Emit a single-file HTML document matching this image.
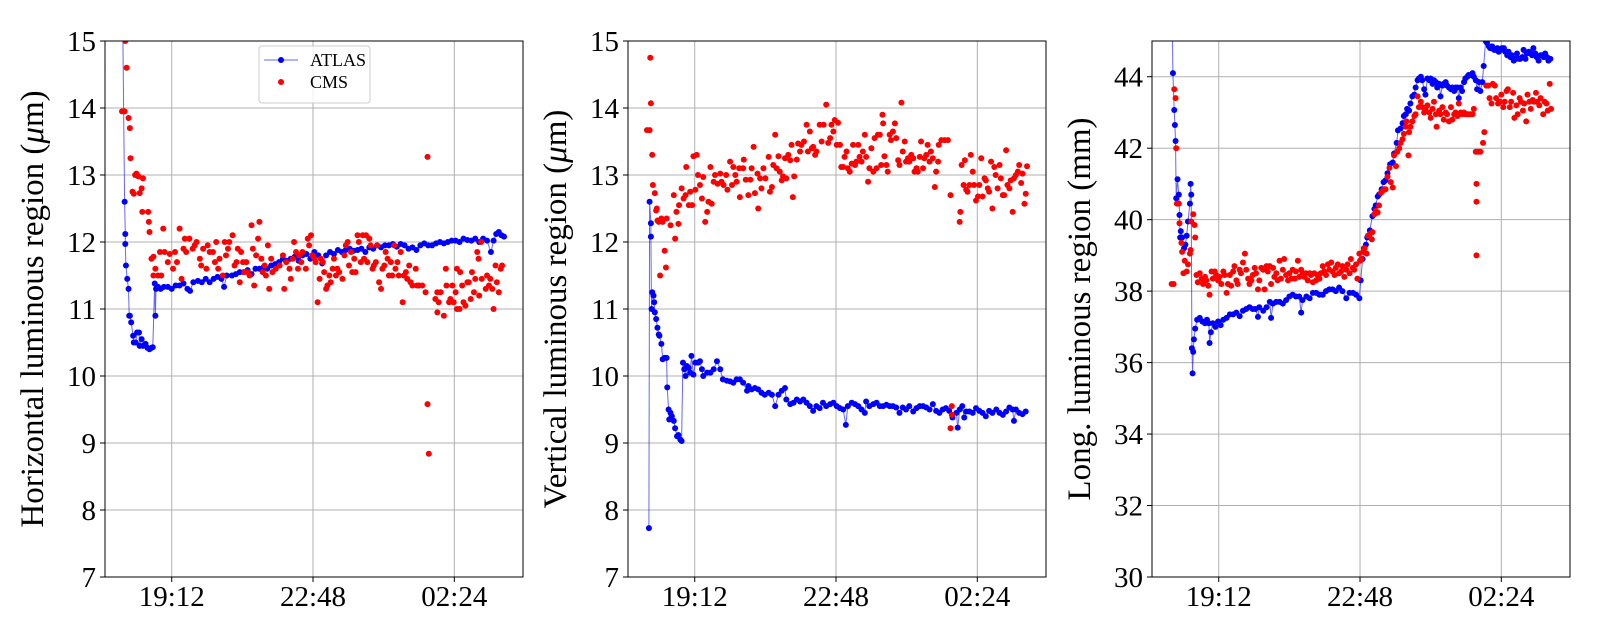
<!DOCTYPE html>
<html><head><meta charset="utf-8"><style>
html,body{margin:0;padding:0;background:#fff;}
svg{display:block;font-family:"Liberation Serif","DejaVu Serif",serif;}
</style></head><body>
<svg id="fig" width="1600" height="640" viewBox="0 0 1600 640"></svg>
<script>
// time in minutes after 18:00
const xTickMinutes=[72,288,504];
const xTickLabels=["19:12","22:48","02:24"];
const p1YTicks=[7,8,9,10,11,12,13,14,15];
const p2YTicks=[7,8,9,10,11,12,13,14,15];
const p3YTicks=[30,32,34,36,38,40,42,44];

const p1AtlasT=[-3,0,1,1,2,4,6,7,8,10,13,14,17,19,22,23,26,28,32,35,38,41,43,46,47,48,51,55,60,66,72,78,84,90,96,100,105,112,118,124,130,136,142,148,152,156,164,170,176,182,188,194,200,206,212,218,224,230,236,242,248,254,260,266,272,278,284,290,296,302,308,314,320,326,332,338,344,350,356,362,368,374,380,386,392,398,404,410,416,422,428,434,440,446,452,458,464,470,476,482,488,494,500,506,512,518,524,530,536,542,548,554,560,564,568,572,576,580];
const p1AtlasV=[15.3,12.6,12.12,11.97,11.65,11.45,11.3,10.9,10.9,10.8,10.6,10.5,10.5,10.65,10.65,10.45,10.55,10.45,10.48,10.42,10.4,10.42,10.43,11.38,10.9,11.3,11.33,11.3,11.33,11.33,11.3,11.35,11.35,11.38,11.3,11.27,11.4,11.42,11.4,11.45,11.4,11.45,11.48,11.45,11.33,11.5,11.5,11.52,11.55,11.55,11.58,11.52,11.6,11.6,11.62,11.6,11.65,11.67,11.7,11.75,11.72,11.75,11.78,11.72,11.8,11.82,11.75,11.85,11.8,11.68,11.8,11.85,11.82,11.88,11.85,11.88,11.9,11.87,11.88,11.9,11.85,11.92,11.9,11.95,11.92,11.95,11.95,11.97,11.93,11.97,11.95,11.9,11.92,11.88,11.95,11.98,11.95,11.95,11.98,12.0,11.98,12.0,12.02,12.02,12.0,12.05,12.03,12.02,12.05,12.0,12.05,12.02,11.85,12.02,12.12,12.15,12.1,12.08];
const p1CmsT=[-4,0,1,3,6,8,9,12,14,16,18,21,23,26,28,27,36,37,38,41,44,44,47,51,54,56,59,61,66,69,74,77,80,84,87,90,92,94,99,104,107,110,115,117,120,125,127,130,135,138,140,143,145,150,153,155,158,160,165,168,171,173,176,178,181,183,186,188,191,194,196,198,201,204,206,209,211,214,216,219,221,224,226,231,237,242,244,247,252,254,257,259,262,265,267,270,272,277,280,282,285,287,290,292,295,298,300,303,305,308,310,313,315,318,320,323,325,328,333,336,338,341,343,346,348,351,353,356,358,361,364,366,369,371,374,376,379,381,384,386,389,392,394,397,399,402,404,407,409,412,414,417,419,422,425,427,430,432,435,437,440,445,447,450,455,460,463,463,465,475,478,480,483,478,488,491,492,496,498,501,503,506,508,508,512,513,516,518,521,524,526,529,531,534,536,539,541,542,545,546,552,554,557,559,562,564,567,569,572,575,577];
const p1CmsV=[13.95,13.95,15.0,14.6,13.85,13.7,13.25,12.75,12.72,13.0,13.02,12.98,12.73,12.8,12.95,12.45,12.45,12.3,12.15,11.75,11.78,11.5,11.6,11.5,11.85,11.5,12.2,11.85,11.7,11.82,11.6,11.85,11.7,12.2,11.45,11.9,12.05,11.85,12.05,11.9,11.95,12.0,11.75,11.65,11.9,11.6,11.95,11.85,11.85,11.7,12.0,11.6,11.75,11.5,12.0,11.8,11.9,12.0,12.1,11.65,11.7,11.9,11.4,11.85,11.7,11.55,11.7,11.55,11.5,12.25,11.9,11.35,11.8,12.05,12.3,11.75,11.55,11.65,11.5,11.95,11.3,11.75,11.55,11.6,11.65,11.8,11.3,11.7,11.6,11.45,11.75,12.0,11.85,11.6,11.8,11.7,11.85,11.6,12.05,11.95,12.1,11.8,11.75,11.7,11.1,11.45,11.75,11.7,11.55,11.3,11.35,11.5,11.4,11.6,11.75,11.5,11.6,11.55,11.45,11.8,11.95,12.0,11.65,11.85,11.55,11.75,11.55,12.1,12.0,11.7,12.1,11.75,12.1,11.7,12.05,11.95,11.6,11.65,11.7,11.95,11.4,11.3,11.6,11.65,11.85,11.75,11.5,11.7,11.5,11.95,11.6,11.7,11.5,11.85,11.1,11.5,11.55,11.45,11.65,11.4,11.35,11.6,11.35,11.35,11.35,11.25,13.27,9.58,8.84,11.15,11.25,11.1,11.25,10.95,10.9,11.6,11.35,11.1,11.15,11.35,11.1,11.25,11.0,11.6,11.0,11.55,11.35,11.1,11.05,11.4,11.4,11.15,11.55,11.25,11.45,11.85,11.75,11.2,12.0,11.45,11.3,11.5,11.35,11.45,11.3,11.0,11.65,11.4,11.25,11.6,11.65];

const p2AtlasT=[2,3,5,5,6,7,9,10,11,13,15,17,18,21,23,26,29,30,32,33,35,37,40,42,45,47,50,52,54,56,58,60,63,65,67,70,73,77,80,83,85,91,96,101,106,111,115,121,126,131,136,141,146,152,154,159,164,169,174,179,185,190,195,200,205,210,212,218,223,228,233,238,243,248,253,258,263,268,273,279,284,289,294,299,303,306,312,317,322,327,332,334,339,345,350,355,360,365,370,375,380,385,390,395,400,406,411,416,421,426,431,436,441,446,451,456,461,466,472,474,477,481,484,487,492,497,502,507,512,517,522,527,533,538,543,548,553,558,560,563,568,573,578];
const p2AtlasV=[7.73,12.6,12.28,12.08,11.0,11.25,11.2,11.1,10.95,10.85,10.72,10.62,10.6,10.48,10.25,10.27,10.27,9.83,9.5,9.35,9.45,9.4,9.33,9.22,9.1,9.12,9.05,9.03,10.2,10.1,10.0,10.15,10.12,10.05,10.3,10.02,10.2,10.2,10.22,10.1,10.0,10.05,10.05,10.1,10.22,10.1,9.95,9.93,9.92,9.9,9.95,9.95,9.9,9.78,9.85,9.8,9.82,9.8,9.75,9.72,9.75,9.72,9.55,9.72,9.78,9.82,9.65,9.58,9.6,9.65,9.62,9.65,9.6,9.55,9.48,9.55,9.52,9.6,9.55,9.58,9.6,9.55,9.52,9.5,9.27,9.55,9.6,9.58,9.55,9.5,9.45,9.62,9.55,9.58,9.6,9.55,9.55,9.57,9.55,9.55,9.53,9.45,9.53,9.5,9.55,9.47,9.52,9.55,9.55,9.53,9.5,9.58,9.48,9.45,9.5,9.52,9.48,9.38,9.45,9.23,9.5,9.55,9.38,9.47,9.47,9.45,9.52,9.48,9.45,9.4,9.48,9.45,9.5,9.45,9.42,9.47,9.53,9.5,9.33,9.5,9.45,9.43,9.47];
const p2CmsT=[-1,3,4,5,7,8,11,13,14,15,17,19,21,23,26,28,29,35,40,42,44,47,48,52,55,58,59,63,65,68,70,73,75,77,80,83,85,88,91,93,98,96,101,103,107,111,113,116,120,122,126,129,131,134,136,140,141,146,147,150,154,157,159,162,164,168,169,172,174,177,180,185,187,190,192,195,197,200,202,205,207,210,212,215,218,220,222,224,228,230,233,235,239,243,245,248,251,253,256,258,263,266,269,273,276,279,281,284,286,289,291,294,296,299,301,304,306,309,312,314,317,319,322,324,327,329,332,334,337,339,342,345,347,350,352,355,357,359,360,362,365,367,370,372,375,378,380,383,385,388,390,393,395,398,400,403,406,408,411,413,416,418,421,423,426,428,431,433,436,439,441,444,445,449,454,459,463,463,465,465,477,478,480,483,485,487,489,492,494,497,499,502,505,507,510,512,515,517,520,522,525,527,530,532,535,538,540,543,545,548,550,553,555,558,560,563,566,568,571,573,576,578,580];
const p2CmsV=[13.67,13.67,14.75,14.07,13.3,12.85,12.73,12.47,12.5,12.32,12.3,11.5,12.35,12.3,11.87,11.62,12.35,12.25,12.7,12.05,12.45,12.27,12.55,12.8,12.65,12.7,13.12,12.55,12.75,12.55,13.28,12.78,13.3,13.0,12.85,12.65,12.97,12.3,12.45,12.6,12.57,13.12,12.9,13.0,12.87,13.02,12.9,12.85,13.0,12.78,13.2,12.85,13.12,13.0,12.9,13.1,12.67,13.1,13.23,12.93,12.7,12.93,13.1,13.42,12.73,13.02,12.5,12.95,12.8,13.1,12.95,13.27,12.75,12.82,13.15,13.6,13.1,13.28,13.05,12.92,12.98,13.25,12.95,13.3,13.22,13.45,12.67,12.98,13.23,13.47,13.35,13.45,13.5,13.75,13.35,13.65,13.4,13.42,13.3,13.35,13.75,13.5,13.75,14.05,13.48,13.55,13.75,13.65,13.82,13.45,13.78,13.45,13.12,13.12,13.27,13.35,13.1,13.05,13.17,13.45,13.15,13.2,13.45,13.27,13.2,13.35,13.6,13.27,12.9,13.1,13.4,13.05,13.55,13.1,13.6,13.6,13.15,13.9,13.77,13.28,13.15,13.05,13.6,13.52,13.65,13.77,13.55,13.22,13.15,14.08,13.35,13.5,13.2,13.25,13.2,13.3,13.25,13.05,13.1,13.05,13.27,13.5,13.1,13.25,13.3,13.45,13.2,13.35,13.25,12.82,13.05,13.2,13.45,13.52,13.52,13.52,12.7,9.22,9.55,9.42,12.3,12.45,13.15,12.85,13.22,12.78,12.75,12.85,13.3,13.05,12.85,12.62,12.68,12.85,13.25,12.68,12.95,12.92,12.8,12.75,13.2,12.5,13.12,13.0,12.8,13.15,12.95,12.7,12.7,13.37,12.85,12.8,12.92,12.45,12.95,13.0,13.05,13.15,12.88,13.02,12.57,12.72,13.13];

const p3AtlasT=[1,2,4,5,6,7,9,11,12,13,14,16,19,21,23,25,28,29,30,31,32,33,34,36,39,43,47,51,54,57,58,60,63,67,71,75,79,84,89,94,99,104,109,114,119,124,128,132,134,140,145,150,152,155,160,165,170,175,180,185,190,195,198,200,206,211,216,221,226,231,236,241,246,251,256,261,267,272,277,282,287,289,292,294,297,299,303,307,310,312,315,317,321,324,327,330,334,338,340,344,346,350,353,355,358,360,363,365,368,371,373,376,378,381,383,386,388,391,394,396,399,401,404,406,409,411,414,416,419,421,424,427,429,432,434,437,439,442,444,447,449,452,454,457,460,462,465,467,470,472,475,477,480,482,485,487,490,493,495,498,500,503,505,508,510,513,515,518,520,523,526,528,531,533,536,538,541,543,546,549,551,553,556,558,561,564,566,569,571,574,576,579];
const p3AtlasV=[45.5,44.1,43.07,42.65,42.2,40.6,41.13,40.7,40.13,39.5,39.68,39.5,39.2,39.3,39.55,39.95,40.45,41.0,40.7,36.4,35.7,36.3,36.65,36.95,37.2,37.25,37.15,37.1,37.2,37.1,36.55,36.85,37.1,37.0,37.15,37.05,37.2,37.25,37.35,37.35,37.4,37.3,37.45,37.5,37.55,37.5,37.5,37.28,37.55,37.45,37.55,37.7,37.25,37.65,37.7,37.7,37.65,37.75,37.85,37.9,37.85,37.85,37.4,37.75,37.85,37.8,37.95,37.95,37.9,37.9,38.0,38.05,38.05,38.0,38.1,38.0,37.8,37.95,37.95,37.9,37.8,38.3,38.9,39.2,39.3,39.5,39.7,40.1,40.3,40.4,40.65,40.7,40.85,41.05,41.1,41.3,41.55,41.6,41.85,42.15,42.5,42.55,42.7,42.9,42.95,43.1,43.05,43.25,43.45,43.5,43.7,43.9,43.95,44.0,43.9,43.65,43.5,43.95,43.9,43.95,43.8,43.9,43.85,43.7,43.8,43.45,43.75,43.8,43.85,43.75,43.7,43.65,43.7,43.6,43.7,43.7,43.4,43.7,43.6,43.85,43.95,44.0,44.05,44.05,44.1,44.0,43.9,43.65,43.85,43.6,43.85,44.3,45.0,44.95,44.85,44.8,44.85,44.75,44.75,44.8,44.7,44.75,44.8,44.8,44.7,44.6,44.7,44.55,44.6,44.45,44.5,44.65,44.5,44.5,44.55,44.75,44.5,44.65,44.7,44.65,44.6,44.8,44.65,44.55,44.45,44.6,44.6,44.55,44.65,44.55,44.45,44.5];
const p3CmsT=[0,3,4,6,7,8,11,12,15,16,18,20,23,25,28,29,30,33,35,36,38,40,43,46,48,51,53,56,58,61,63,66,68,71,73,76,79,81,84,86,89,91,94,96,99,101,104,106,109,112,114,117,119,122,124,127,129,132,134,137,140,142,145,147,150,152,155,157,160,162,165,167,170,172,175,178,180,183,185,188,190,193,195,198,200,203,205,208,211,213,216,218,221,223,226,228,231,233,236,239,241,244,246,249,251,254,256,259,261,264,267,269,272,274,277,279,282,284,287,288,290,293,295,298,300,303,306,307,310,312,315,317,320,322,325,327,330,333,335,338,340,343,345,348,350,353,355,358,359,362,363,365,368,371,373,376,378,381,383,386,388,391,394,396,399,401,404,405,409,411,414,416,419,421,424,427,429,432,434,437,439,442,444,447,449,452,454,457,460,462,465,466,466,466,467,470,472,476,478,481,484,486,489,491,494,496,499,502,504,507,509,512,514,517,519,522,524,527,529,532,534,537,539,542,544,547,549,552,554,557,559,562,564,568,570,573,575,578,580];
const p3CmsV=[38.2,38.2,43.65,43.4,42.0,40.45,40.45,39.9,39.35,39.1,38.5,38.85,38.55,38.75,39.05,39.15,39.95,40.15,39.85,39.5,38.45,38.25,38.5,38.35,38.2,38.4,38.3,38.15,37.9,38.55,38.35,38.55,38.45,38.3,38.4,38.2,38.55,38.45,37.95,38.2,38.45,38.15,38.55,38.7,38.3,38.2,38.6,38.5,38.8,39.05,38.6,38.35,38.2,38.3,38.45,38.65,38.5,38.05,38.3,38.65,38.6,38.05,38.7,38.55,38.7,38.2,38.65,38.4,38.5,38.3,38.85,38.35,38.6,38.9,38.45,38.3,38.5,38.35,38.6,38.35,38.55,38.85,38.4,38.6,38.5,38.4,38.5,38.3,38.5,38.45,38.25,38.5,38.3,38.45,38.35,38.5,38.7,38.55,38.45,38.75,38.6,38.8,38.55,38.45,38.65,38.75,38.5,38.55,38.7,38.4,38.6,38.75,38.5,38.9,38.65,38.6,38.75,38.35,39.05,38.85,38.9,39.1,39.2,39.05,39.55,39.6,39.45,39.65,40.15,40.25,40.2,40.4,40.75,40.8,40.85,40.85,41.2,41.45,41.05,40.9,41.8,41.5,41.9,42.0,42.15,42.25,42.4,42.6,42.75,41.8,42.45,42.6,42.75,42.9,42.95,43.45,43.15,43.3,43.15,43.0,43.1,43.2,43.0,42.85,43.1,43.3,42.95,42.6,43.05,42.95,43.15,42.8,43.0,42.95,42.75,43.15,42.8,42.95,43.0,42.9,43.25,43.0,42.95,43.0,42.95,42.95,42.95,42.95,42.95,43.1,41.9,41.0,40.5,39.0,41.9,41.9,41.9,42.15,42.45,43.75,43.75,43.4,43.25,43.8,43.75,43.4,43.25,43.3,43.5,43.15,43.3,43.6,43.65,43.15,43.3,43.55,42.85,43.2,42.95,43.4,43.3,43.05,43.25,42.75,43.5,43.3,43.1,43.35,43.3,43.55,43.3,43.2,43.4,42.95,43.3,43.25,43.05,43.8,43.1];

const NS="http://www.w3.org/2000/svg";
const svg=document.getElementById('fig');
const X_MIN=-30, X_MAX=609;
const PT=41, PB=577, PW=418;

function mk(tag,attrs,parent){const e=document.createElementNS(NS,tag);for(const k in attrs)e.setAttribute(k,attrs[k]);(parent||svg).appendChild(e);return e;}

function drawPanel(idx,left,yMin,yMax,yTicks,title,atlasT,atlasV,cmsT,cmsV){
  const xs=t=>left+(t-X_MIN)/(X_MAX-X_MIN)*PW;
  const ys=v=>PB-(v-yMin)/(yMax-yMin)*(PB-PT);
  const g=mk('g',{});
  
  
  const cp=mk('clipPath',{id:'clip'+idx},g);
  mk('rect',{x:left,y:PT,width:PW,height:PB-PT},cp);
  xTickMinutes.forEach((m,i)=>{
    const x=xs(m);
    const gl=mk('line',{x1:x,x2:x,y1:PT,y2:PB,stroke:'#b0b0b0','stroke-width':1},g);
    
    
    mk('line',{x1:x,x2:x,y1:PB,y2:PB+5,stroke:'#000','stroke-width':1},g);
    const tl=mk('text',{x:x,y:PB+29,'font-size':29,'text-anchor':'middle',fill:'#000'},g);
    tl.textContent=xTickLabels[i];
    
    
  });
  yTicks.forEach(v=>{
    const y=ys(v);
    const gl=mk('line',{x1:left,x2:left+PW,y1:y,y2:y,stroke:'#b0b0b0','stroke-width':1},g);
    
    
    mk('line',{x1:left-5,x2:left,y1:y,y2:y,stroke:'#000','stroke-width':1},g);
    const tl=mk('text',{x:left-9,y:y+10,'font-size':29,'text-anchor':'end',fill:'#000'},g);
    tl.textContent=String(v);
    
    
  });
  const dg=mk('g',{'clip-path':'url(#clip'+idx+')'},g);
  let d='';
  atlasT.forEach((t,i)=>{d+=(i?'L':'M')+xs(t).toFixed(1)+','+ys(atlasV[i]).toFixed(1);});
  const ln=mk('path',{d:d,fill:'none',stroke:'#0000ff','stroke-opacity':0.6,'stroke-width':1},dg);
  
  
  atlasT.forEach((t,i)=>{
    const c=mk('circle',{cx:xs(t),cy:ys(atlasV[i]),r:3,fill:'#0000ff'},dg);
    
    
  });
  cmsT.forEach((t,i)=>{
    const c=mk('circle',{cx:xs(t),cy:ys(cmsV[i]),r:3,fill:'#ff0000'},dg);
    
    
  });
  const fr=mk('rect',{x:left,y:PT,width:PW,height:PB-PT,fill:'none',stroke:'#000','stroke-width':1},g);
  
  
  const tx=left-62, ty=(PT+PB)/2;
  const tt=mk('text',{x:tx,y:ty,'font-size':33,'text-anchor':'middle',transform:'rotate(-90 '+tx+' '+ty+')',fill:'#000'},g);
  tt.innerHTML=title;
  
  
}

drawPanel(1,105,7,15,p1YTicks,'Horizontal luminous region (<tspan font-style="italic">μ</tspan>m)',p1AtlasT,p1AtlasV,p1CmsT,p1CmsV);
drawPanel(2,628,7,15,p2YTicks,'Vertical luminous region (<tspan font-style="italic">μ</tspan>m)',p2AtlasT,p2AtlasV,p2CmsT,p2CmsV);
drawPanel(3,1152,30,45,p3YTicks,'Long. luminous region (mm)',p3AtlasT,p3AtlasV,p3CmsT,p3CmsV);

const lg=mk('g',{});


mk('rect',{x:259,y:46,width:111,height:57,rx:3,fill:'#fff','fill-opacity':0.8,stroke:'#cccccc','stroke-width':1},lg);
mk('line',{x1:264,x2:298,y1:60,y2:60,stroke:'#0000ff','stroke-opacity':0.6,'stroke-width':1},lg);
mk('circle',{cx:281,cy:60,r:3,fill:'#0000ff'},lg);
mk('circle',{cx:281,cy:82,r:3,fill:'#ff0000'},lg);
const l1=mk('text',{x:310,y:66,'font-size':18,fill:'#000'},lg);l1.textContent='ATLAS';


const l2=mk('text',{x:310,y:88,'font-size':18,fill:'#000'},lg);l2.textContent='CMS';


</script>
</body></html>
